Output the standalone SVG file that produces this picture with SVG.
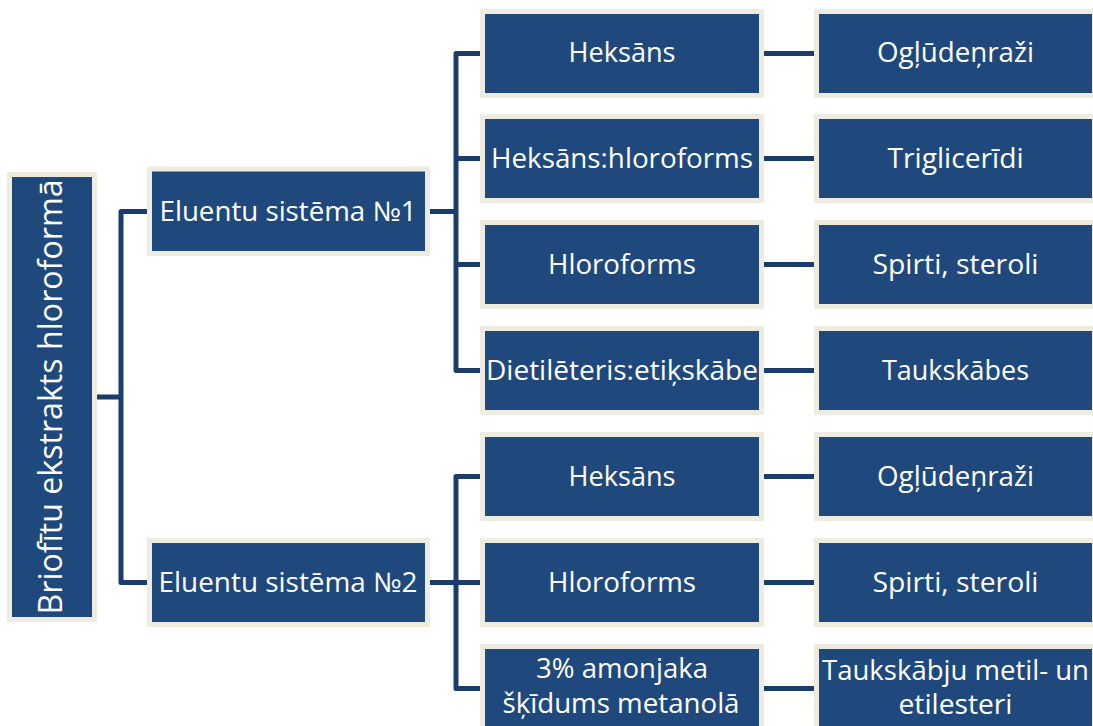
<svg xmlns="http://www.w3.org/2000/svg" width="1093" height="726" viewBox="0 0 1093 726">
<style>
.box{fill:#1F497D;stroke:#EEECE1;stroke-width:5}
.lbl{font-family:"Open Sans","Noto Sans",sans-serif;font-size:27px;fill:#FFFFFF;text-anchor:middle}
.conn{fill:none;stroke:#1B3D6B;stroke-width:5;stroke-linejoin:round}
</style>
<rect width="1093" height="726" fill="#FFFFFF"/>
<g id="connectors">
<path class="conn" d="M97,397 H121"/>
<path class="conn" d="M147,211.5 H121 V582.5 H147"/>
<path class="conn" d="M430,211.5 H456"/>
<path class="conn" d="M480,53.5 H456 V370.5 H480"/>
<path class="conn" d="M456,158.5 H480"/>
<path class="conn" d="M456,264.5 H480"/>
<path class="conn" d="M480,476.5 H456 V688.5 H480"/>
<path class="conn" d="M430,582.5 H480"/>
<path class="conn" d="M764,53.5 H814"/>
<path class="conn" d="M764,158.5 H814"/>
<path class="conn" d="M764,264.5 H814"/>
<path class="conn" d="M764,370.5 H814"/>
<path class="conn" d="M764,476.5 H814"/>
<path class="conn" d="M764,582.5 H814"/>
<path class="conn" d="M764,688.5 H814"/>
</g>
<g id="root">
<rect class="box" x="9.5" y="174.5" width="85" height="445"/>
<text class="lbl" transform="translate(62,397) rotate(-90)" style="font-size:33px" textLength="435" lengthAdjust="spacingAndGlyphs">Briofītu ekstrakts hloroformā</text>
</g>
<g id="sys1">
<rect class="box" x="149.5" y="169" width="278" height="84.5"/>
<text class="lbl" x="288" y="221" textLength="257" lengthAdjust="spacingAndGlyphs">Eluentu sistēma №1</text>
</g>
<g id="sys2">
<rect class="box" x="149.5" y="540.5" width="278" height="84"/>
<text class="lbl" x="288" y="592" textLength="259" lengthAdjust="spacingAndGlyphs">Eluentu sistēma №2</text>
</g>
<g id="s1a">
<rect class="box" x="482.5" y="11.5" width="279" height="84"/>
<text class="lbl" x="622" y="62" textLength="107" lengthAdjust="spacingAndGlyphs">Heksāns</text>
</g>
<g id="s1b">
<rect class="box" x="482.5" y="116.5" width="279" height="84"/>
<text class="lbl" x="622" y="167.5" textLength="262" lengthAdjust="spacingAndGlyphs">Heksāns:hloroforms</text>
</g>
<g id="s1c">
<rect class="box" x="482.5" y="222.5" width="279" height="84"/>
<text class="lbl" x="622" y="273.5" textLength="148" lengthAdjust="spacingAndGlyphs">Hloroforms</text>
</g>
<g id="s1d">
<rect class="box" x="482.5" y="328.5" width="279" height="84"/>
<text class="lbl" x="622" y="379.5" textLength="272" lengthAdjust="spacingAndGlyphs">Dietilēteris:etiķskābe</text>
</g>
<g id="s2a">
<rect class="box" x="482.5" y="434.5" width="279" height="84"/>
<text class="lbl" x="622" y="485.5" textLength="107" lengthAdjust="spacingAndGlyphs">Heksāns</text>
</g>
<g id="s2b">
<rect class="box" x="482.5" y="540.5" width="279" height="84"/>
<text class="lbl" x="622" y="591.5" textLength="148" lengthAdjust="spacingAndGlyphs">Hloroforms</text>
</g>
<g id="s2c">
<rect class="box" x="482.5" y="646.5" width="279" height="84"/>
<text class="lbl" x="622" y="678" textLength="172" lengthAdjust="spacingAndGlyphs">3% amonjaka</text>
<text class="lbl" x="621" y="713" textLength="237" lengthAdjust="spacingAndGlyphs">šķīdums metanolā</text>
</g>
<g id="r1a">
<rect class="box" x="816.5" y="11.5" width="278" height="84"/>
<text class="lbl" x="955.5" y="62" textLength="157" lengthAdjust="spacingAndGlyphs">Ogļūdeņraži</text>
</g>
<g id="r1b">
<rect class="box" x="816.5" y="116.5" width="278" height="84"/>
<text class="lbl" x="955.5" y="167.5" textLength="136" lengthAdjust="spacingAndGlyphs">Triglicerīdi</text>
</g>
<g id="r1c">
<rect class="box" x="816.5" y="222.5" width="278" height="84"/>
<text class="lbl" x="955.5" y="273.5" textLength="166" lengthAdjust="spacingAndGlyphs">Spirti, steroli</text>
</g>
<g id="r1d">
<rect class="box" x="816.5" y="328.5" width="278" height="84"/>
<text class="lbl" x="955.5" y="379.5" textLength="147" lengthAdjust="spacingAndGlyphs">Taukskābes</text>
</g>
<g id="r2a">
<rect class="box" x="816.5" y="434.5" width="278" height="84"/>
<text class="lbl" x="955.5" y="485.5" textLength="157" lengthAdjust="spacingAndGlyphs">Ogļūdeņraži</text>
</g>
<g id="r2b">
<rect class="box" x="816.5" y="540.5" width="278" height="84"/>
<text class="lbl" x="955.5" y="591.5" textLength="166" lengthAdjust="spacingAndGlyphs">Spirti, steroli</text>
</g>
<g id="r2c">
<rect class="box" x="816.5" y="646.5" width="278" height="84"/>
<text class="lbl" x="955.5" y="680" textLength="267" lengthAdjust="spacingAndGlyphs">Taukskābju metil- un</text>
<text class="lbl" x="955.5" y="714" textLength="114" lengthAdjust="spacingAndGlyphs">etilesteri</text>
</g>
</svg>
